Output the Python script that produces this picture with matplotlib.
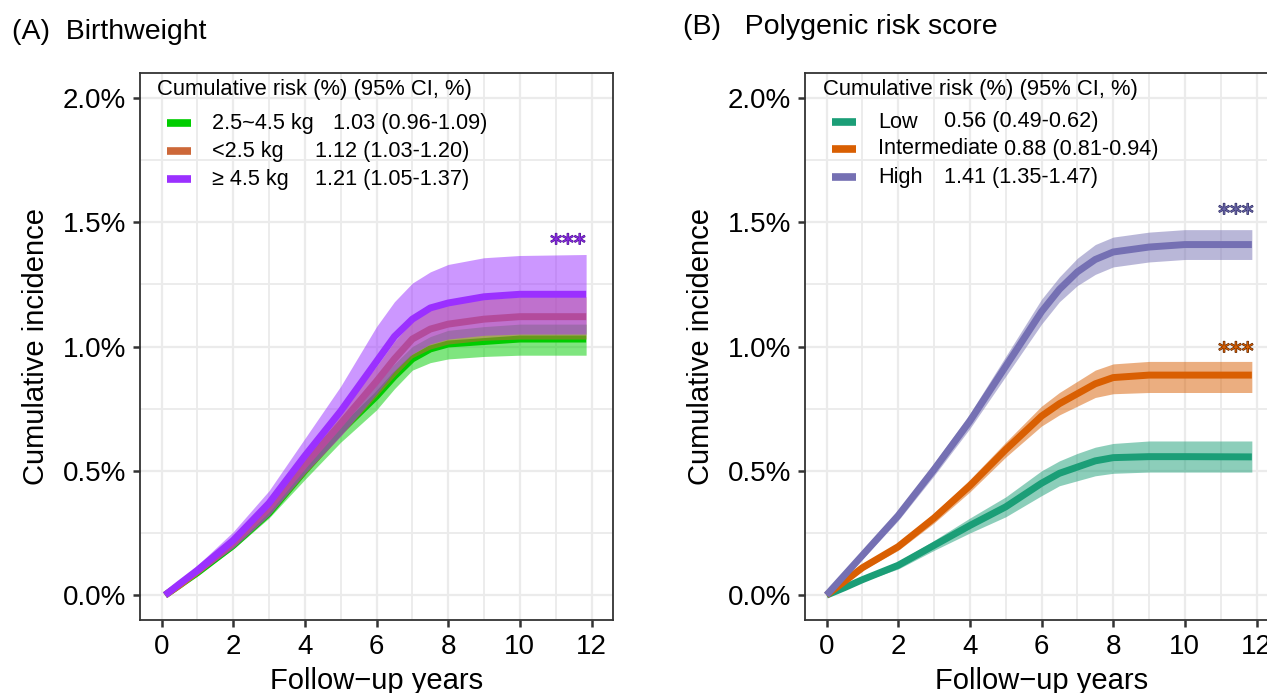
import matplotlib
matplotlib.use("Agg")
import matplotlib.pyplot as plt
import matplotlib.patheffects as pe
from matplotlib.lines import Line2D
from matplotlib.ticker import FuncFormatter, MultipleLocator

plt.rcParams['font.family'] = ['Liberation Sans', 'DejaVu Sans']

# ---------------- data ----------------
t_left = [0.1, 0.5, 1, 2, 3, 4, 5, 6, 6.5, 7, 7.5, 8, 9, 10, 11.85]
green = [0, 0.04, 0.09, 0.20, 0.33, 0.50, 0.66, 0.80, 0.88, 0.95, 0.99, 1.01, 1.02, 1.03, 1.03]
green_lo = [0, 0.035, 0.08, 0.185, 0.31, 0.465, 0.615, 0.745, 0.83, 0.905, 0.935, 0.95, 0.96, 0.965, 0.965]
green_hi = [0, 0.045, 0.10, 0.215, 0.35, 0.535, 0.705, 0.855, 0.93, 1.00, 1.04, 1.065, 1.08, 1.09, 1.09]
brown = [0, 0.04, 0.095, 0.21, 0.35, 0.525, 0.69, 0.86, 0.95, 1.03, 1.07, 1.09, 1.11, 1.12, 1.12]
brown_lo = [0, 0.035, 0.085, 0.19, 0.32, 0.485, 0.64, 0.80, 0.88, 0.955, 0.99, 1.01, 1.025, 1.03, 1.03]
brown_hi = [0, 0.045, 0.105, 0.23, 0.38, 0.565, 0.74, 0.92, 1.02, 1.10, 1.15, 1.17, 1.19, 1.20, 1.20]
purple = [0, 0.045, 0.10, 0.22, 0.37, 0.56, 0.74, 0.94, 1.04, 1.11, 1.155, 1.175, 1.20, 1.21, 1.21]
purple_lo = [0, 0.037, 0.083, 0.19, 0.32, 0.49, 0.64, 0.81, 0.90, 0.97, 1.01, 1.03, 1.045, 1.05, 1.05]
purple_hi = [0, 0.055, 0.12, 0.255, 0.42, 0.63, 0.84, 1.08, 1.18, 1.255, 1.30, 1.33, 1.357, 1.366, 1.37]

left_names = ["2.5~4.5 kg", "<2.5 kg", "\u2265 4.5 kg"]
left_values = ["1.03 (0.96-1.09)", "1.12 (1.03-1.20)", "1.21 (1.05-1.37)"]

t_right = [0, 0.5, 1, 2, 3, 4, 5, 6, 6.5, 7, 7.5, 8, 9, 10, 11.87]
low = [0, 0.03, 0.062, 0.12, 0.20, 0.28, 0.355, 0.45, 0.49, 0.515, 0.54, 0.553, 0.557, 0.557, 0.556]
low_lo = [0, 0.025, 0.055, 0.105, 0.18, 0.25, 0.315, 0.40, 0.44, 0.46, 0.48, 0.49, 0.495, 0.495, 0.495]
low_hi = [0, 0.035, 0.07, 0.135, 0.22, 0.31, 0.395, 0.50, 0.54, 0.57, 0.595, 0.61, 0.62, 0.62, 0.62]
inter = [0, 0.055, 0.11, 0.195, 0.31, 0.44, 0.585, 0.72, 0.77, 0.81, 0.85, 0.875, 0.885, 0.885, 0.885]
inter_lo = [0, 0.045, 0.10, 0.18, 0.29, 0.415, 0.555, 0.68, 0.725, 0.76, 0.795, 0.81, 0.815, 0.815, 0.815]
inter_hi = [0, 0.065, 0.12, 0.21, 0.33, 0.465, 0.615, 0.76, 0.815, 0.86, 0.905, 0.93, 0.94, 0.94, 0.94]
high = [0, 0.08, 0.16, 0.32, 0.505, 0.70, 0.92, 1.14, 1.23, 1.30, 1.35, 1.38, 1.40, 1.41, 1.41]
high_lo = [0, 0.07, 0.145, 0.30, 0.48, 0.67, 0.88, 1.09, 1.18, 1.245, 1.29, 1.32, 1.34, 1.35, 1.35]
high_hi = [0, 0.09, 0.175, 0.34, 0.53, 0.73, 0.96, 1.19, 1.28, 1.355, 1.41, 1.44, 1.46, 1.47, 1.47]

right_names = ["Low", "Intermediate", "High"]
right_values = ["0.56 (0.49-0.62)", "0.88 (0.81-0.94)", "1.41 (1.35-1.47)"]

x_ticks = [0, 2, 4, 6, 8, 10, 12]
y_ticks = [0.0, 0.5, 1.0, 1.5, 2.0]

# ---------------- figure ----------------
W, H = 1267, 693
fig = plt.figure(figsize=(W / 100, H / 100), dpi=100)

def fx(px):
    return px / W

def fy(py):
    return 1 - py / H

axL = fig.add_axes([fx(140), fy(620), (613 - 140) / W, (620 - 73) / H])
axR = fig.add_axes([fx(805), fy(620), (613 - 140) / W, (620 - 73) / H])

def style(ax):
    ax.set_xlim(-0.6, 12.6)
    ax.set_ylim(-0.1, 2.1)
    ax.set_xticks(x_ticks)
    ax.set_yticks(y_ticks)
    ax.xaxis.set_minor_locator(MultipleLocator(1))
    ax.yaxis.set_minor_locator(MultipleLocator(0.25))
    ax.yaxis.set_major_formatter(FuncFormatter(lambda v, p: f"{v:.1f}%"))
    ax.grid(which='major', color='#EBEBEB', linewidth=1.6, zorder=0)
    ax.grid(which='minor', color='#EBEBEB', linewidth=1.3, zorder=0)
    ax.set_axisbelow(True)
    for s in ax.spines.values():
        s.set_color('#333333')
        s.set_linewidth(1.3)
    ax.tick_params(which='major', length=5, width=1.8, color='#333333',
                   labelsize=20, labelcolor='black', pad=5)
    ax.tick_params(which='minor', length=0)
    ax.set_xlabel("Follow\u2212up years", fontsize=21, labelpad=5)
    ax.set_ylabel("Cumulative incidence", fontsize=21, labelpad=9)

style(axL)
style(axR)

def draw(ax, t, m, lo, hi, c, z):
    ax.fill_between(t, lo, hi, color=c, alpha=0.5, linewidth=0, zorder=z)
    ax.plot(t, m, color=c, linewidth=5, solid_capstyle='butt',
            solid_joinstyle='round', zorder=z + 0.5)

cols_L = ['#00CD00', '#CD6839', '#9B30FF']
draw(axL, t_left, green, green_lo, green_hi, cols_L[0], 2)
draw(axL, t_left, brown, brown_lo, brown_hi, cols_L[1], 3)
draw(axL, t_left, purple, purple_lo, purple_hi, cols_L[2], 4)

cols_R = ['#1B9E77', '#D95F02', '#7570B3']
draw(axR, t_right, low, low_lo, low_hi, cols_R[0], 2)
draw(axR, t_right, inter, inter_lo, inter_hi, cols_R[1], 3)
draw(axR, t_right, high, high_lo, high_hi, cols_R[2], 4)

# legends (drawn in figure pixel positions, transparent background)
def legend(x_title, y_title, x_key, x_name, x_vals, ys, cols, names, values):
    fig.text(fx(x_title), fy(y_title), "Cumulative risk (%) (95% CI, %)",
             fontsize=15.8, ha='left', va='center')
    for y, c, n, v, xv in zip(ys, cols, names, values, x_vals):
        fig.add_artist(Line2D([fx(x_key), fx(x_key + 24)], [fy(y), fy(y)],
                              color=c, linewidth=5.5, solid_capstyle='butt'))
        fig.text(fx(x_name), fy(y), n, fontsize=15.6, ha='left', va='center')
        fig.text(fx(xv), fy(y), v, fontsize=15.6, ha='left', va='center')

legend(157, 90, 167, 212, [333, 315, 315], [123, 151, 179],
       cols_L, left_names, left_values)
legend(823, 90, 832, 878, [944, 1004, 944], [122, 149, 177],
       cols_R, right_names, right_values)

def stars(x, y, fill, edge):
    fig.text(fx(x), fy(y + 12), "***", color=fill, fontsize=17, ha='center',
             va='baseline', family='DejaVu Sans',
             path_effects=[pe.withStroke(linewidth=0.9, foreground=edge)])

stars(568, 239, '#8A2BE2', '#4B1090')
stars(1236, 209, '#6A66A8', '#2A2860')
stars(1236, 347, '#D95F02', '#5A2400')

fig.text(fx(12), fy(32), "(A)  Birthweight", fontsize=20.5, ha='left', va='center')
fig.text(fx(683), fy(27), "(B)   Polygenic risk score", fontsize=20.5, ha='left', va='center')

fig.savefig("out.png", dpi=100)
